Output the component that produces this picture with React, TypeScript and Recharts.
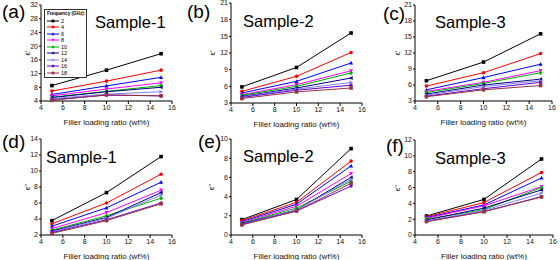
import React from 'react';
import { LineChart, Line, XAxis, YAxis } from 'recharts';

const loadings = [5, 10, 15];
const frequencies = ['2', '4', '6', '8', '10', '12', '14', '16', '18'];
const colors = ['#000000', '#FF0000', '#0000FF', '#FF00FF', '#00B000', '#000080', '#8080FF', '#6600CC', '#993344'];

// one row per frequency, values at 5, 10, 15 wt%
const realS1 = [
  [8.5, 13.0, 17.8], [6.9, 9.8, 13.0], [5.9, 8.4, 10.9], [5.5, 7.5, 9.3], [5.1, 6.8, 8.5],
  [5.0, 6.7, 8.0], [4.7, 6.0, 6.7], [4.4, 5.7, 5.5], [4.2, 5.8, 5.5],
];
const realS2 = [
  [5.9, 9.4, 15.6], [5.1, 7.8, 12.1], [4.8, 6.9, 10.2], [4.5, 6.3, 8.8], [4.4, 6.0, 8.4],
  [4.2, 5.7, 7.5], [4.1, 5.5, 6.7], [4.0, 5.3, 6.2], [3.8, 5.0, 5.7],
];
const realS3 = [
  [6.8, 10.3, 15.6], [5.8, 8.3, 11.9], [5.1, 7.4, 9.9], [4.8, 6.5, 8.7], [4.6, 6.3, 8.3],
  [4.3, 6.0, 7.1], [4.1, 5.7, 6.8], [3.9, 5.3, 6.5], [3.8, 5.1, 5.9],
];
const imagS1 = [
  [3.8, 7.3, 11.8], [3.4, 6.0, 9.6], [3.1, 5.4, 8.6], [2.8, 4.8, 7.6], [2.6, 4.4, 6.6],
  [2.5, 4.2, 7.3], [2.4, 4.1, 7.0], [2.3, 3.9, 6.0], [2.2, 3.8, 5.9],
];
const imagS2 = [
  [1.6, 3.7, 9.0], [1.5, 3.4, 7.7], [1.4, 3.2, 7.2], [1.3, 3.0, 6.4], [1.25, 2.8, 5.6],
  [1.2, 2.6, 6.0], [1.15, 2.6, 5.8], [1.1, 2.5, 5.1], [1.05, 2.5, 5.4],
];
const imagS3 = [
  [2.4, 4.5, 9.6], [2.3, 4.1, 7.9], [2.2, 3.8, 7.2], [2.1, 3.7, 6.1], [2.0, 3.2, 6.0],
  [1.9, 3.4, 5.7], [1.8, 3.1, 5.3], [1.7, 2.95, 4.85], [1.7, 2.95, 4.8],
];

const xTicks = [4, 6, 8, 10, 12, 14, 16];
const ticksA = [4, 8, 12, 16, 20, 24, 28, 32];
const ticksBC = [3, 6, 9, 12, 15, 18, 21];
const ticksD = [2, 4, 6, 8, 10, 12, 14];
const ticksE = [0, 2, 4, 6, 8, 10];
const ticksF = [0, 2, 4, 6, 8, 10, 12];

const FONT = '"Liberation Sans", Arial, sans-serif';

function toRows(values: number[][]) {
  return loadings.map((x, j) => {
    const row: any = { x };
    frequencies.forEach((f, i) => (row['f' + f] = values[i][j]));
    return row;
  });
}

function Marker({ cx, cy, color, idx, s = 1.8 }: any) {
  if (cx == null || cy == null) return null;
  const p = (pts: number[][]) => pts.map((q) => `${cx + q[0] * s},${cy + q[1] * s}`).join(' ');
  switch (idx % 9) {
    case 0: return <rect x={cx - s} y={cy - s} width={2 * s} height={2 * s} fill={color} />;
    case 1: return <circle cx={cx} cy={cy} r={s} fill={color} />;
    case 2: return <polygon points={p([[0, -1.2], [1.1, 0.9], [-1.1, 0.9]])} fill={color} />;
    case 3: return <polygon points={p([[0, 1.2], [1.1, -0.9], [-1.1, -0.9]])} fill={color} />;
    case 4: return <polygon points={p([[0, -1.3], [1.1, 0], [0, 1.3], [-1.1, 0]])} fill={color} />;
    case 5: return <polygon points={p([[-1.2, 0], [0.9, -1.1], [0.9, 1.1]])} fill={color} />;
    case 6: return <polygon points={p([[1.2, 0], [-0.9, -1.1], [-0.9, 1.1]])} fill={color} />;
    case 7: return <polygon points={p([[1, 0], [0.5, 0.87], [-0.5, 0.87], [-1, 0], [-0.5, -0.87], [0.5, -0.87]])} fill={color} />;
    default: return <rect x={cx - s} y={cy - s} width={2 * s} height={2 * s} fill={color} />;
  }
}

function FreqLegend() {
  return (
    <div style={{ position: 'absolute', left: 44, top: 9, width: 43, boxSizing: 'border-box', border: '1px solid #333', background: '#fff', fontFamily: FONT, fontSize: 5.5, lineHeight: '6.5px', padding: '1px 1px 1px 2px', color: '#000' }}>
      <div style={{ fontWeight: 'bold', fontSize: 4.6, whiteSpace: 'nowrap', height: 6.5 }}>Frequency (GHz):</div>
      {frequencies.map((f, i) => (
        <div key={f} style={{ display: 'flex', alignItems: 'center', height: 6.5 }}>
          <svg width={12} height={6} style={{ marginRight: 2 }}>
            <line x1={0} y1={3} x2={12} y2={3} stroke={colors[i]} strokeWidth={1} />
            <Marker cx={6} cy={3} color={colors[i]} idx={i} s={1.4} />
          </svg>
          <span>{f}</span>
        </div>
      ))}
    </div>
  );
}

interface PanelProps {
  rect: [number, number, number, number];
  values: number[][];
  yTicks: number[];
  letter: string;
  letterPos: [number, number];
  sample: string;
  samplePos: [number, number];
  yLabel: string;
  yLabelX: number;
}

function Panel({ rect, values, yTicks, letter, letterPos, sample, samplePos, yLabel, yLabelX }: PanelProps) {
  const [x0, x1, y0, y1] = rect;
  const L = x0 - 40;
  const T = y0 - 5;
  const W = x1 - L + 4;
  const H = y1 - T + 30;
  const data = toRows(values);
  const yDomain = [yTicks[0], yTicks[yTicks.length - 1]];
  const tickStyle = { fontSize: 7, fill: '#111', fontFamily: FONT };
  return (
    <>
      <div style={{ position: 'absolute', left: letterPos[0], top: letterPos[1], fontFamily: FONT, fontSize: 19, lineHeight: '19px', color: '#000' }}>{letter}</div>
      <div style={{ position: 'absolute', left: L, top: T, width: W, height: H }}>
        <LineChart width={W} height={H} data={data} margin={{ top: 5, right: 4, bottom: 6, left: 16 }}>
          <XAxis dataKey="x" type="number" domain={[4, 16]} ticks={xTicks} interval={0} height={24}
            tick={tickStyle} tickSize={3} tickMargin={1} stroke="#000"
            label={{ value: 'Filler loading ratio (wt%)', position: 'insideBottom', offset: 0, style: { fontSize: 8, fill: '#111', fontFamily: FONT } }} />
          <XAxis xAxisId="top" orientation="top" dataKey="x" type="number" domain={[4, 16]} height={0} tick={false} tickLine={false} stroke="#000" />
          <YAxis type="number" domain={yDomain} ticks={yTicks} interval={0} width={24} tick={tickStyle} tickSize={2} tickMargin={1} stroke="#000" />
          <YAxis yAxisId="right" orientation="right" type="number" domain={yDomain} width={0} tick={false} tickLine={false} stroke="#000" />
          {frequencies.map((f, i) => (
            <Line key={f} dataKey={'f' + f} name={f} stroke={colors[i]} strokeWidth={1} isAnimationActive={false}
              dot={(p: any) => <Marker key={'d' + f + p.index} cx={p.cx} cy={p.cy} color={colors[i]} idx={i} />} />
          ))}
        </LineChart>
      </div>
      <div style={{ position: 'absolute', left: samplePos[0], top: samplePos[1], fontFamily: FONT, fontSize: 16.5, lineHeight: '17px', color: '#000', whiteSpace: 'nowrap' }}>{sample}</div>
      <div style={{ position: 'absolute', left: yLabelX - 6, width: 12, textAlign: 'center', top: (y0 + y1) / 2 - 6, fontFamily: FONT, fontSize: 8, lineHeight: '12px', transform: 'rotate(-90deg)', transformOrigin: 'center', color: '#000' }}>{yLabel}</div>
    </>
  );
}

export default function App() {
  return (
    <div style={{ position: 'absolute', left: 0, top: 0, width: 560, height: 260, background: '#fff', overflow: 'hidden' }}>
      <Panel rect={[41, 172, 5, 101]} values={realS1} yTicks={ticksA} letter="(a)" letterPos={[2, 2]} sample="Sample-1" samplePos={[95, 14]} yLabel="ε'" yLabelX={28} />
      <Panel rect={[231, 362, 3, 103]} values={realS2} yTicks={ticksBC} letter="(b)" letterPos={[187, 2]} sample="Sample-2" samplePos={[243, 13]} yLabel="ε'" yLabelX={213} />
      <Panel rect={[415, 552, 5, 101]} values={realS3} yTicks={ticksBC} letter="(c)" letterPos={[383, 4]} sample="Sample-3" samplePos={[435, 14]} yLabel="ε'" yLabelX={398} />
      <Panel rect={[41, 172, 139, 235]} values={imagS1} yTicks={ticksD} letter="(d)" letterPos={[2, 132]} sample="Sample-1" samplePos={[46, 149]} yLabel="ε''" yLabelX={28} />
      <Panel rect={[231, 362, 139, 235]} values={imagS2} yTicks={ticksE} letter="(e)" letterPos={[198, 132]} sample="Sample-2" samplePos={[243, 148]} yLabel="ε''" yLabelX={212} />
      <Panel rect={[415, 553, 140, 235]} values={imagS3} yTicks={ticksF} letter="(f)" letterPos={[386, 136]} sample="Sample-3" samplePos={[435, 150]} yLabel="ε''" yLabelX={398} />
      <FreqLegend />
    </div>
  );
}
